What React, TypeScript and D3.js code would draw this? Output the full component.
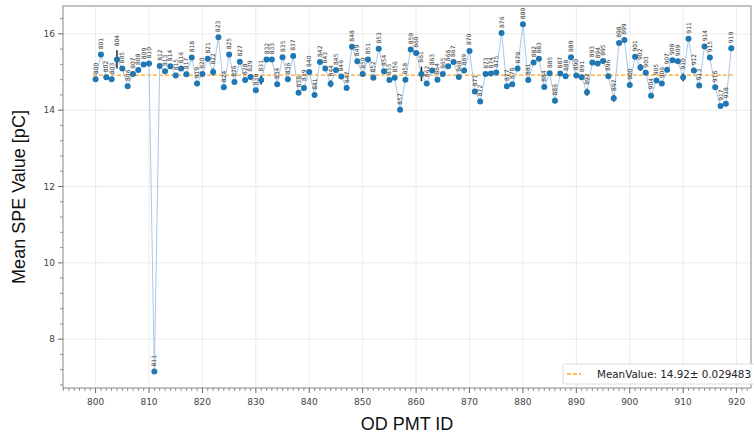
import React from "react";
import * as d3 from "d3";

const pmtIds: number[] = d3.range(800, 920);
const meanValues: number[] = [
  14.81, 15.46, 14.86, 14.81, 15.33, 15.09, 14.63, 14.95, 15.05, 15.2,
  15.22, 7.15, 15.16, 15.02, 15.15, 14.91, 15.09, 14.94, 15.38, 14.7,
  14.95, 15.35, 15.0, 15.91, 14.6, 15.46, 14.74, 15.27, 14.79, 14.87,
  14.52, 14.79, 15.33, 15.33, 14.68, 15.39, 14.81, 15.42, 14.46, 14.58,
  15.0, 14.4, 15.26, 15.09, 14.69, 15.05, 14.88, 14.58, 15.66, 15.28,
  14.95, 15.33, 14.85, 15.61, 15.02, 14.79, 14.85, 14.01, 14.8, 15.59,
  15.5, 14.95, 14.7, 15.04, 14.8, 14.95, 15.15, 15.26, 14.87, 15.04,
  15.55, 14.49, 14.23, 14.95, 14.96, 14.99, 16.02, 14.63, 14.68, 15.09,
  16.25, 14.79, 15.25, 15.35, 14.61, 14.97, 14.25, 14.96, 14.89, 15.39,
  14.91, 14.86, 14.47, 15.25, 15.22, 15.29, 14.89, 14.31, 15.76, 15.84,
  14.66, 15.4, 15.12, 14.98, 14.38, 14.78, 14.7, 15.06, 15.31, 15.28,
  14.86, 15.87, 15.04, 14.65, 15.67, 15.38, 14.6, 14.11, 14.17, 15.62,
];
const errors: number[] = [
  0.03, 0.03, 0.03, 0.03, 0.24, 0.03, 0.03, 0.03, 0.03, 0.03,
  0.03, 0.03, 0.03, 0.03, 0.03, 0.03, 0.03, 0.03, 0.03, 0.03,
  0.03, 0.03, 0.09, 0.03, 0.03, 0.03, 0.03, 0.03, 0.03, 0.03,
  0.03, 0.12, 0.03, 0.03, 0.03, 0.03, 0.03, 0.03, 0.03, 0.08,
  0.03, 0.03, 0.03, 0.03, 0.09, 0.03, 0.03, 0.03, 0.03, 0.03,
  0.03, 0.03, 0.03, 0.03, 0.03, 0.03, 0.03, 0.03, 0.03, 0.03,
  0.03, 0.19, 0.06, 0.03, 0.03, 0.03, 0.03, 0.03, 0.03, 0.03,
  0.05, 0.03, 0.03, 0.03, 0.03, 0.03, 0.03, 0.03, 0.03, 0.03,
  0.03, 0.03, 0.03, 0.03, 0.03, 0.03, 0.03, 0.03, 0.03, 0.03,
  0.03, 0.03, 0.09, 0.03, 0.03, 0.03, 0.03, 0.09, 0.03, 0.03,
  0.03, 0.03, 0.09, 0.03, 0.06, 0.03, 0.03, 0.03, 0.03, 0.03,
  0.1, 0.03, 0.03, 0.03, 0.03, 0.03, 0.03, 0.03, 0.03, 0.03,
];
const meanValue = 14.92;
const legendLabel = "MeanValue: 14.92\u00b1 0.029483";
const xTicks: number[] = [800, 810, 820, 830, 840, 850, 860, 870, 880, 890, 900, 910, 920];
const yTicks: number[] = [8, 10, 12, 14, 16];

const W = 754;
const H = 437;
const L = 63, R = 751, T = 6, B = 388;

export default function App() {
  const x = d3.scaleLinear().domain([793.9, 922.7]).range([L, R]);
  const y = d3.scaleLinear().domain([6.72, 16.73]).range([B, T]);
  const pts = pmtIds.map((id, i) => ({ id, v: meanValues[i], e: errors[i] }));
  const line = d3.line<{ id: number; v: number }>().x((d) => x(d.id)).y((d) => y(d.v));
  const xMinor = d3.range(794, 923).filter((v) => v % 10 !== 0);
  const yMinor = d3.range(6.8, 16.75, 0.4).filter((v) => Math.abs(v - Math.round(v / 2) * 2) > 0.05);
  const tickFont = "'DejaVu Sans', sans-serif";
  return (
    <svg width={W} height={H} style={{ position: "absolute", left: 0, top: 0, background: "#fff" }}>
      <defs>
        <clipPath id="plotclip">
          <rect x={L} y={T} width={R - L} height={B - T} />
        </clipPath>
      </defs>
      {xTicks.map((t) => (
        <line key={"gx" + t} x1={x(t)} x2={x(t)} y1={T} y2={B} stroke="#ebebeb" strokeWidth={1} />
      ))}
      {yTicks.map((t) => (
        <line key={"gy" + t} x1={L} x2={R} y1={y(t)} y2={y(t)} stroke="#ebebeb" strokeWidth={1} />
      ))}
      <g clipPath="url(#plotclip)">
        <line x1={x(799.5)} x2={x(919.5)} y1={y(meanValue)} y2={y(meanValue)} stroke="#ffa21a" strokeWidth={1.3} strokeDasharray="4,2" />
        <path d={line(pts) || ""} fill="none" stroke="#a9c9e8" strokeWidth={1} />
        {pts.map((p) => (
          <line key={"e" + p.id} x1={x(p.id)} x2={x(p.id)} y1={y(p.v - p.e)} y2={y(p.v + p.e)} stroke="#222" strokeWidth={1.5} />
        ))}
        {pts.map((p) => (
          <circle key={"c" + p.id} cx={x(p.id)} cy={y(p.v)} r={3} fill="#1f77b4" />
        ))}
        {pts.map((p) => (
          <text
            key={"t" + p.id}
            transform={`translate(${x(p.id) + 2},${y(p.v + p.e) - 4}) rotate(-90)`}
            fontSize={6}
            fontFamily={tickFont}
            fill="#333"
          >
            {p.id}
          </text>
        ))}
      </g>
      <rect x={L} y={T} width={R - L} height={B - T} fill="none" stroke="#888" strokeWidth={1} />
      {xTicks.map((t) => (
        <g key={"xt" + t}>
          <line x1={x(t)} x2={x(t)} y1={B} y2={B + 5} stroke="#666" />
          <text x={x(t)} y={B + 17} textAnchor="middle" fontSize={9} fontFamily={tickFont} fill="#444">
            {t}
          </text>
        </g>
      ))}
      {xMinor.map((t) => (
        <line key={"xm" + t} x1={x(t)} x2={x(t)} y1={B} y2={B + 3} stroke="#777" strokeWidth={0.8} />
      ))}
      {yTicks.map((t) => (
        <g key={"yt" + t}>
          <line x1={L - 5} x2={L} y1={y(t)} y2={y(t)} stroke="#666" />
          <text x={L - 8} y={y(t) + 3} textAnchor="end" fontSize={9} fontFamily={tickFont} fill="#444">
            {t}
          </text>
        </g>
      ))}
      {yMinor.map((t) => (
        <line key={"ym" + t} x1={L - 3} x2={L} y1={y(t)} y2={y(t)} stroke="#777" strokeWidth={0.8} />
      ))}
      <text x={407} y={430} textAnchor="middle" fontSize={18} fontFamily="'Liberation Sans', Arial, sans-serif" fill="#111">
        OD PMT ID
      </text>
      <text
        transform={`translate(25,${(T + B) / 2}) rotate(-90)`}
        textAnchor="middle"
        fontSize={18}
        fontFamily="'Liberation Sans', Arial, sans-serif"
        fill="#111"
      >
        Mean SPE Value [pC]
      </text>
      <rect x={563} y={364} width={200} height={20} rx={2} fill="#fff" fillOpacity={0.85} stroke="#ddd" />
      <line x1={567} x2={581} y1={374} y2={374} stroke="#ffa21a" strokeWidth={1.3} strokeDasharray="4,2" />
      <text x={597} y={378} fontSize={10.5} fontFamily={tickFont} fill="#222" textLength={154} lengthAdjust="spacingAndGlyphs">
        {legendLabel}
      </text>
    </svg>
  );
}
